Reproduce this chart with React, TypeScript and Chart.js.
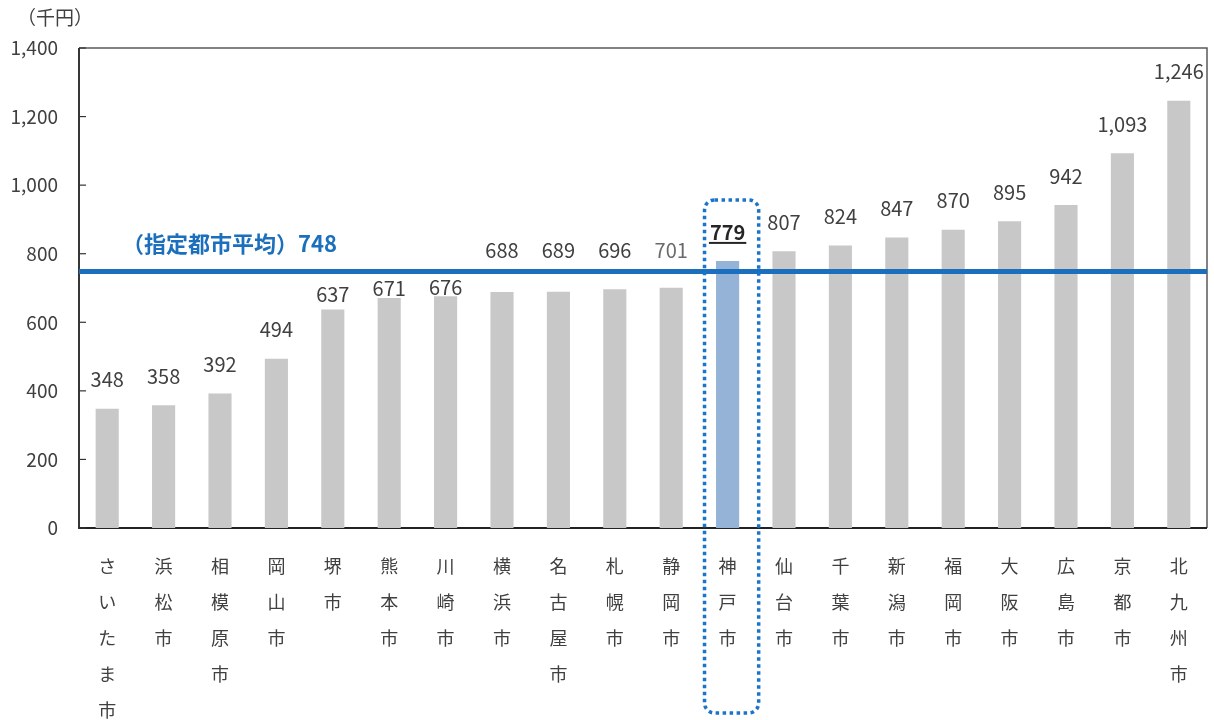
import React, { useEffect, useRef } from "react";
import { Chart, registerables } from "chart.js";

Chart.register(...registerables);

const categories = ["さいたま市", "浜松市", "相模原市", "岡山市", "堺市", "熊本市", "川崎市", "横浜市", "名古屋市", "札幌市", "静岡市", "神戸市", "仙台市", "千葉市", "新潟市", "福岡市", "大阪市", "広島市", "京都市", "北九州市"];
const values = [348, 358, 392, 494, 637, 671, 676, 688, 689, 696, 701, 779, 807, 824, 847, 870, 895, 942, 1093, 1246];
const highlightIndex = 11;
const averageValue = 748;
const averageLabel = "（指定都市平均）748";
const unitLabel = "（千円）";
const yTicks = [0, 200, 400, 600, 800, 1000, 1200, 1400];

const FONT = "'Noto Sans CJK JP', 'Noto Sans', sans-serif";
const TEXT = "#404040";

export default function App() {
  const ref = useRef<HTMLCanvasElement | null>(null);
  useEffect(() => {
    document.body.style.margin = "0";
    const canvas = ref.current!;
    const overlay = {
      id: "overlay",
      beforeDatasetsDraw(chart: any) {
        const { ctx, chartArea: a } = chart;
        const y = chart.scales.y;
        ctx.save();
        ctx.strokeStyle = "#595959";
        ctx.lineWidth = 1.5;
        ctx.beginPath();
        ctx.moveTo(a.left, a.top);
        ctx.lineTo(a.right, a.top);
        ctx.lineTo(a.right, a.bottom);
        ctx.stroke();
        ctx.strokeStyle = "#222";
        ctx.lineWidth = 1.8;
        ctx.beginPath();
        ctx.moveTo(a.left, a.top);
        ctx.lineTo(a.left, a.bottom);
        ctx.lineTo(a.right, a.bottom);
        ctx.stroke();
        ctx.lineWidth = 1.2;
        ctx.strokeStyle = "#333";
        yTicks.forEach((t) => {
          const py = y.getPixelForValue(t);
          ctx.beginPath();
          ctx.moveTo(a.left, py);
          ctx.lineTo(a.left + 7, py);
          ctx.stroke();
        });
        ctx.restore();
      },
      afterDatasetsDraw(chart: any) {
        const { ctx, chartArea: a } = chart;
        const x = chart.scales.x;
        const y = chart.scales.y;
        const ay = y.getPixelForValue(averageValue);
        ctx.save();
        // value labels (moved off the average line when they would overlap it)
        values.forEach((v, i) => {
          const px = x.getPixelForValue(i);
          const barTop = y.getPixelForValue(v);
          let py = barTop - 29;
          if (Math.abs(py - ay) < 18 && i !== highlightIndex) {
            if (barTop - ay > 24) {
              py = (ay + barTop) / 2 + 4;
            } else {
              py = ay - 21;
            }
          }
          const s = v.toLocaleString("en-US");
          ctx.textAlign = "center";
          ctx.textBaseline = "middle";
          if (i === highlightIndex) {
            ctx.font = `bold 20px ${FONT}`;
            ctx.fillStyle = "#262626";
            ctx.fillText(s, px, py);
            const w = ctx.measureText(s).width;
            ctx.fillRect(px - w / 2 - 1, py + 10, w + 2, 2);
          } else {
            ctx.font = `20px ${FONT}`;
            ctx.fillStyle = i === 10 ? "#6a6a6a" : TEXT;
            ctx.fillText(s, px, py);
          }
        });
        // average line
        ctx.strokeStyle = "#1b6fbd";
        ctx.lineWidth = 5;
        ctx.beginPath();
        ctx.moveTo(a.left, ay);
        ctx.lineTo(a.right, ay);
        ctx.stroke();
        ctx.font = `bold 22px ${FONT}`;
        ctx.fillStyle = "#1b6fbd";
        ctx.textAlign = "left";
        ctx.textBaseline = "middle";
        ctx.fillText(averageLabel, a.left + 43, ay - 28);
        // dotted box
        const cw = x.getPixelForValue(1) - x.getPixelForValue(0);
        const cx = x.getPixelForValue(highlightIndex) + 4;
        const left = cx - cw * 0.48;
        const right = cx + cw * 0.48;
        const top = y.getPixelForValue(values[highlightIndex]) - 61;
        const bottom = chart.height - 7;
        ctx.strokeStyle = "#1a74c9";
        ctx.lineWidth = 3.5;
        ctx.setLineDash([3.5, 3.5]);
        ctx.beginPath();
        (ctx as any).roundRect(left, top, right - left, bottom - top, 10);
        ctx.stroke();
        ctx.setLineDash([]);
        // unit
        ctx.font = `19px ${FONT}`;
        ctx.fillStyle = TEXT;
        ctx.textAlign = "left";
        ctx.fillText(unitLabel, 17, 18);
        ctx.restore();
      },
    };
    const chart = new Chart(canvas, {
      type: "bar",
      data: {
        labels: categories.map((c) => Array.from(c)),
        datasets: [
          {
            data: values,
            backgroundColor: values.map((_, i) => (i === highlightIndex ? "#95b3d7" : "#c8c8c8")),
            barPercentage: 0.41,
            categoryPercentage: 1,
          },
        ],
      },
      options: {
        animation: false,
        responsive: false,
        maintainAspectRatio: false,
        layout: { padding: { top: 48, right: 7, left: 0, bottom: 0 } },
        plugins: { legend: { display: false }, tooltip: { enabled: false } },
        scales: {
          x: {
            grid: { display: false, drawTicks: false },
            border: { display: false },
            ticks: {
              color: TEXT,
              font: { family: FONT, size: 18, lineHeight: 2.0 },
              padding: 20,
              maxRotation: 0,
              autoSkip: false,
            },
            afterFit(s: any) {
              s.height = 192;
            },
          },
          y: {
            min: 0,
            max: 1400,
            grid: { display: false, drawTicks: false },
            border: { display: false },
            afterBuildTicks(s: any) {
              s.ticks = yTicks.map((v) => ({ value: v }));
            },
            ticks: {
              color: TEXT,
              font: { family: FONT, size: 19 },
              padding: 21,
              callback: (v: any) => Number(v).toLocaleString("en-US"),
            },
            afterFit(s: any) {
              s.width = 79;
            },
          },
        },
      },
      plugins: [overlay],
    });
    return () => chart.destroy();
  }, []);
  return <canvas ref={ref} width={1214} height={720} style={{ display: "block" }} />;
}
